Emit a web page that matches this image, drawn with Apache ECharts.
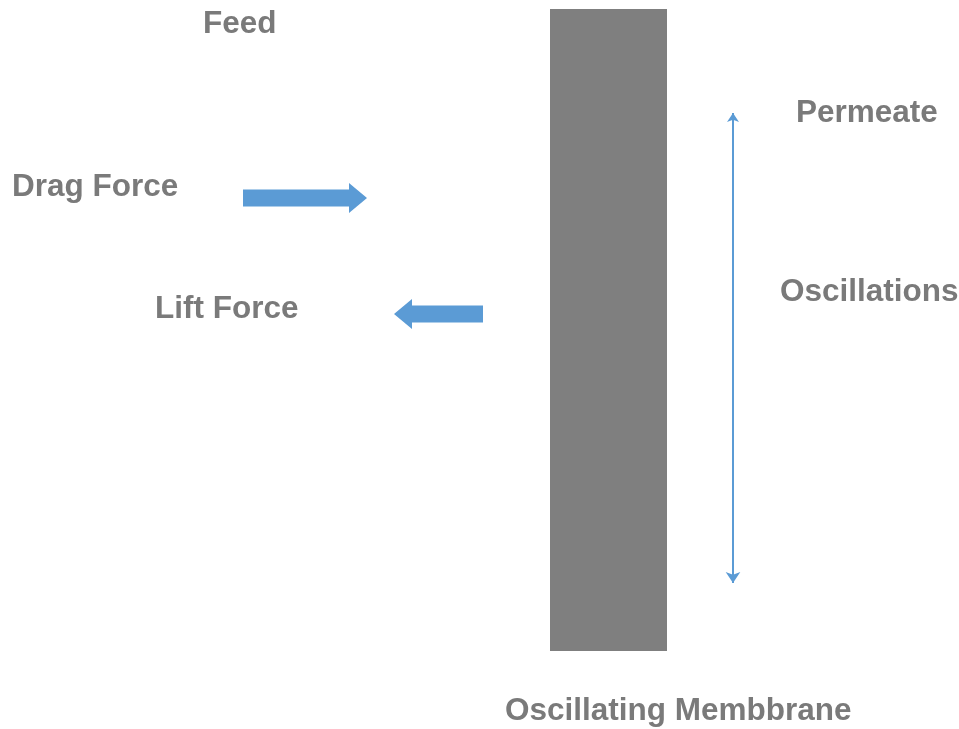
<!DOCTYPE html>
<html>
<head>
<meta charset="utf-8">
<script src="https://cdn.jsdelivr.net/npm/echarts@6/dist/echarts.min.js"></script>
<style>
  html, body { margin: 0; padding: 0; background: #fff; }
  #main { width: 959px; height: 729px; }
</style>
</head>
<body>
<div id="main"></div>
<script>
// diagram coordinates (x to the right, y downwards), one unit = one pixel of the picture
var labels = ['Feed', 'Drag Force', 'Lift Force', 'Permeate', 'Oscillations', 'Oscillating Membbrane'];
var labelX = [203, 12, 155, 796, 780, 505];
var labelY = [24, 187, 309, 113, 292, 711];

// membrane block: x0, y0, x1, y1
var membrane = [550, 9, 667, 651];

// block arrows: tail x, y, tip x
var blockArrows = [
    [243, 198, 367],   // drag force, pointing right
    [483, 314, 394]    // lift force, pointing left
];

// oscillation double arrow: x, top y, bottom y
var oscillation = [733, 113, 583];

var grey = '#7f7f7f';
var textGrey = '#7a7a7a';
var blue = '#5b9bd5';

var myChart = echarts.init(document.getElementById('main'));

var option = {
    animation: false,
    backgroundColor: '#ffffff',
    grid: { left: 0, right: 0, top: 0, bottom: 0 },
    xAxis: { type: 'value', min: 0, max: 959, show: false },
    yAxis: { type: 'value', min: 0, max: 729, inverse: true, show: false },
    series: [
        {   // membrane
            type: 'custom',
            silent: true,
            data: [membrane],
            renderItem: function (params, api) {
                var p0 = api.coord([api.value(0), api.value(1)]);
                var p1 = api.coord([api.value(2), api.value(3)]);
                return {
                    type: 'rect',
                    shape: { x: p0[0], y: p0[1], width: p1[0] - p0[0], height: p1[1] - p0[1] },
                    style: { fill: grey }
                };
            }
        },
        {   // drag / lift arrows
            type: 'custom',
            silent: true,
            data: blockArrows,
            renderItem: function (params, api) {
                var tail = api.coord([api.value(0), api.value(1)]);
                var tip = api.coord([api.value(2), api.value(1)]);
                var dir = tip[0] > tail[0] ? 1 : -1;
                var shaft = 8.5, head = 15, headLen = 18;
                var bx = tip[0] - dir * headLen;
                var y = tail[1];
                return {
                    type: 'polygon',
                    shape: {
                        points: [
                            [tail[0], y - shaft], [bx, y - shaft], [bx, y - head],
                            [tip[0], y], [bx, y + head], [bx, y + shaft], [tail[0], y + shaft]
                        ]
                    },
                    style: { fill: blue }
                };
            }
        },
        {   // oscillation arrow
            type: 'lines',
            coordinateSystem: 'cartesian2d',
            silent: true,
            symbol: ['arrow', 'arrow'],
            symbolSize: [9, 11],
            lineStyle: { color: blue, width: 2, opacity: 1 },
            data: [{ coords: [[oscillation[0], oscillation[1]], [oscillation[0], oscillation[2]]] }]
        },
        {   // texts
            type: 'scatter',
            silent: true,
            symbolSize: 0,
            itemStyle: { opacity: 1 },
            data: labels.map(function (t, i) { return { name: t, value: [labelX[i], labelY[i]] }; }),
            label: {
                show: true,
                position: 'right',
                distance: 0,
                formatter: '{b}',
                color: textGrey,
                opacity: 1,
                fontFamily: 'Liberation Sans',
                fontWeight: 'bold',
                fontSize: 31.5
            }
        }
    ]
};
myChart.setOption(option);
</script>
</body>
</html>
